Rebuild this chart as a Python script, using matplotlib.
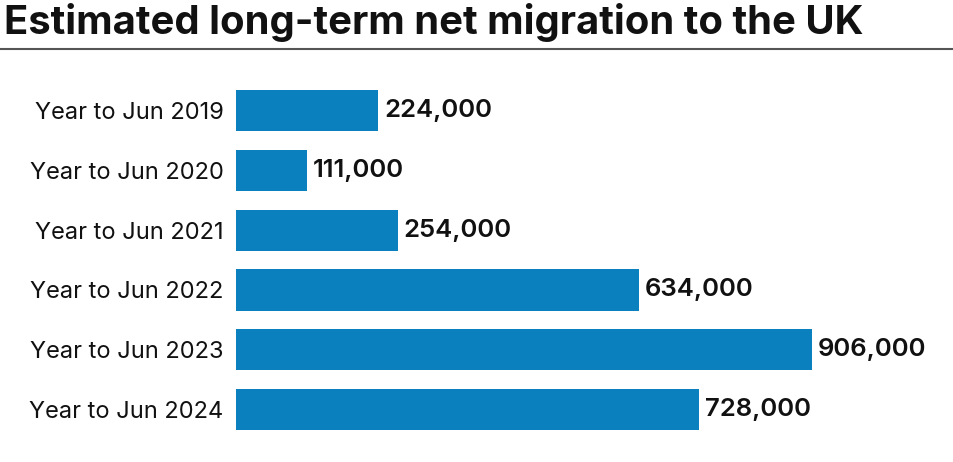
import matplotlib.pyplot as plt

# data
periods = ["Year to Jun 2019", "Year to Jun 2020", "Year to Jun 2021",
           "Year to Jun 2022", "Year to Jun 2023", "Year to Jun 2024"]
net_migration = [224000, 111000, 254000, 634000, 906000, 728000]

bar_colour = "#0a80bf"
plt.rcParams['font.family'] = ['Inter', 'DejaVu Sans']

fig = plt.figure(figsize=(9.54, 4.62), dpi=100)
ax = fig.add_axes([0.2474, 0.049, 0.6038, 0.7763])

ypos = range(len(periods))
ax.barh(ypos, net_migration, height=0.69, color=bar_colour)
for y, v in zip(ypos, net_migration):
    ax.text(v + 9000, y, f"{v:,}", va="center", ha="left",
            fontsize=18.5, fontweight="semibold", color="#111111")

ax.set_xlim(0, 906000)
ax.set_ylim(len(periods) - 0.5, -0.5)
ax.set_yticks(list(ypos))
ax.set_yticklabels(periods, fontsize=17, color="#111111")
ax.tick_params(axis="y", length=0, pad=9)
ax.set_xticks([])
for s in ax.spines.values():
    s.set_visible(False)

# title and rule underneath
fig.text(4 / 954, 1 - 23 / 462, "Estimated long-term net migration to the UK",
         fontsize=28.8, fontweight="bold", va="center", ha="left", color="#111111")
fig.add_artist(plt.Line2D([0, 1], [1 - 49 / 462] * 2, color="#555555", lw=1.5))

fig.savefig("out.png", dpi=100)
